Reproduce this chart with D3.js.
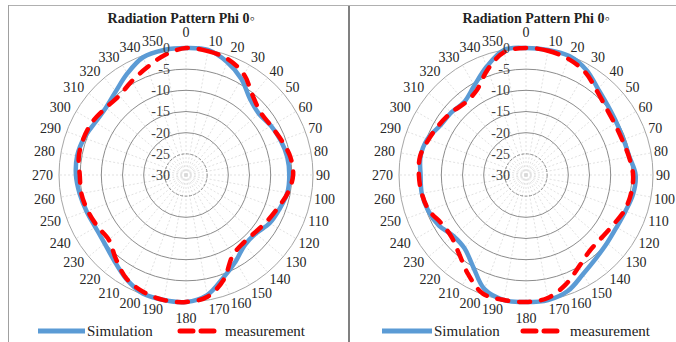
<!DOCTYPE html>
<html>
<head>
<meta charset="utf-8">
<script src="https://cdn.jsdelivr.net/npm/d3@7"></script>
<style>
  body { margin: 0; background: #fff; }
  svg { display: block; }
</style>
</head>
<body>
<svg id="chart" width="676" height="342" font-family="'Liberation Serif', 'Times New Roman', 'DejaVu Serif', serif"></svg>
<script>
// angle ticks (deg) and dB rings
var angles = [0, 10, 20, 30, 40, 50, 60, 70, 80, 90, 100, 110, 120, 130, 140, 150, 160, 170,
              180, 190, 200, 210, 220, 230, 240, 250, 260, 270, 280, 290, 300, 310, 320, 330, 340, 350];
var ringValues = [-30, -25, -20, -15, -10, -5, 0];
var seriesNames = ["Simulation", "measurement"];
var titleText = "Radiation Pattern Phi 0\u25E6";

// left chart
var simLeft = [0, 0, -1.6, -3.8, -6.5, -7.5, -6.8, -6.2, -5.7, -5.6, -5.7, -6.5, -7.2, -8.5, -8.4, -6.5, -4.2, -1.2,
               0, 0, -0.2, -1.7, -3.6, -4.9, -5.3, -5.0, -4.5, -4.0, -3.9, -4.4, -5.2, -5.3, -4.2, -2.3, -0.4, 0];
var measLeft = [0, -0.3, -0.9, -2.6, -5.5, -7.0, -6.8, -6.0, -5.0, -4.7, -5.6, -7.0, -8.0, -8.8, -9.0, -8.0, -3.8, -0.8,
                0, 0, -0.6, -1.8, -4.2, -6.2, -5.8, -5.3, -4.9, -4.9, -4.3, -4.3, -4.6, -5.3, -5.5, -4.4, -3.0, -1.2];
// right chart
var simRight = [0, 0, -0.1, -1.4, -3.5, -4.7, -5.3, -5.5, -5.2, -4.1, -4.3, -5.0, -5.3, -5.0, -4.3, -3.0, -0.9, 0,
                0, 0, -1.3, -5.0, -7.4, -7.6, -6.2, -5.4, -5.0, -5.1, -4.7, -5.2, -6.6, -7.0, -7.4, -5.6, -2.8, 0];
var measRight = [0, -0.2, -0.8, -2.0, -4.0, -5.3, -5.8, -5.8, -5.3, -4.7, -4.8, -5.3, -6.3, -6.8, -6.6, -5.0, -2.5, -0.5,
                 0, 0, -0.2, -2.8, -5.5, -7.1, -7.0, -5.6, -5.0, -4.7, -4.6, -5.5, -6.3, -7.0, -7.7, -6.8, -3.5, -0.5];

var svg = d3.select("#chart");
var R = 127, cy = 175;
var blue = "#5B9BD5", red = "#FF0000";
var serif = "'Liberation Serif', 'Times New Roman', 'DejaVu Serif', serif";

// frame lines
svg.append("line").attr("x1", 8).attr("x2", 676).attr("y1", 5.5).attr("y2", 5.5)
    .attr("stroke", "#b0b0b0").attr("stroke-width", 1);
svg.append("line").attr("x1", 8.5).attr("x2", 8.5).attr("y1", 5).attr("y2", 342)
    .attr("stroke", "#a0a0a0").attr("stroke-width", 1);
svg.append("line").attr("x1", 349).attr("x2", 349).attr("y1", 6).attr("y2", 342)
    .attr("stroke", "#808080").attr("stroke-width", 2);

var rScale = d3.scaleLinear().domain([-30, 0]).range([0, R]);
var aScale = d3.scaleLinear().domain([0, 360]).range([0, 2 * Math.PI]);

function drawPanel(cx, titleX, sim, meas, lg) {
    var g = svg.append("g").attr("transform", "translate(" + cx + "," + cy + ")");

    // spokes
    g.append("g").selectAll("line").data(angles).enter().append("line")
        .attr("x1", 0).attr("y1", 0)
        .attr("x2", function (d) { return R * Math.sin(aScale(d)); })
        .attr("y2", function (d) { return -R * Math.cos(aScale(d)); })
        .attr("stroke", "#d9d9d9").attr("stroke-width", 0.8)
        .attr("stroke-dasharray", "2,2");

    // rings
    g.append("g").selectAll("circle").data(ringValues.slice(1)).enter().append("circle")
        .attr("r", function (d) { return rScale(d); })
        .attr("fill", "none")
        .attr("stroke", function (d) { return d === 0 ? "#a6a6a6" : "#8c8c8c"; })
        .attr("stroke-width", 1)
        .attr("stroke-dasharray", function (d) { return d === -25 ? "3,1.5" : null; });

    // series
    var line = d3.lineRadial()
        .angle(function (d, i) { return aScale(angles[i]); })
        .radius(function (d) { return rScale(d); })
        .curve(d3.curveCatmullRomClosed.alpha(0.5));

    g.append("path").datum(sim).attr("d", line)
        .attr("fill", "none").attr("stroke", blue).attr("stroke-width", 4.5)
        .attr("stroke-linejoin", "round");
    g.append("path").datum(meas).attr("d", line)
        .attr("fill", "none").attr("stroke", red).attr("stroke-width", 4.5)
        .attr("stroke-dasharray", "11,11").attr("stroke-linecap", "round");

    // value labels
    g.append("g").selectAll("text").data(ringValues).enter().append("text")
        .attr("x", -16)
        .attr("y", function (d) { return -rScale(d); })
        .attr("dy", "0.35em")
        .attr("text-anchor", "end")
        .attr("font-family", serif)
        .attr("font-size", "14px")
        .attr("fill", "#404040")
        .text(function (d) { return d; });

    // angle labels
    g.append("g").selectAll("text").data(angles).enter().append("text")
        .attr("x", function (d) {
            var s = Math.sin(aScale(d));
            if (d === 0 || d === 180) return 0;
            return d < 180 ? (R + 3) * s : (R + 6) * s;
        })
        .attr("y", function (d) {
            if (d === 0) return -(R + 16);
            if (d === 180) return R + 16;
            return -(R + 9) * Math.cos(aScale(d));
        })
        .attr("dy", "0.35em")
        .attr("text-anchor", function (d) {
            return (d === 0 || d === 180) ? "middle" : (d < 180 ? "start" : "end");
        })
        .attr("font-family", serif)
        .attr("font-size", "14px")
        .attr("fill", "#262626")
        .text(function (d) { return d; });

    // title
    svg.append("text").attr("x", titleX).attr("y", 18).attr("dy", "0.35em")
        .attr("text-anchor", "middle").attr("font-family", serif)
        .attr("font-size", "14px").attr("font-weight", "bold")
        .attr("fill", "#222").text(titleText);

    // legend
    var ly = 331;
    svg.append("line").attr("x1", lg[0]).attr("x2", lg[1]).attr("y1", ly).attr("y2", ly)
        .attr("stroke", blue).attr("stroke-width", 5);
    svg.append("text").attr("x", lg[1] + 2).attr("y", ly).attr("dy", "0.35em")
        .attr("font-family", serif)
        .attr("font-size", "15px").attr("fill", "#222").text(seriesNames[0]);
    svg.append("line").attr("x1", lg[2]).attr("x2", lg[3]).attr("y1", ly).attr("y2", ly)
        .attr("stroke", red).attr("stroke-width", 5)
        .attr("stroke-dasharray", "13,8").attr("stroke-linecap", "round");
    svg.append("text").attr("x", lg[3] + 5).attr("y", ly).attr("dy", "0.35em")
        .attr("font-family", serif)
        .attr("font-size", "15px").attr("fill", "#222").text(seriesNames[1]);
}

drawPanel(186, 181, simLeft, measLeft, [38, 85, 180, 220]);
drawPanel(526, 536, simRight, measRight, [382, 432, 523, 565]);
</script>
</body>
</html>
